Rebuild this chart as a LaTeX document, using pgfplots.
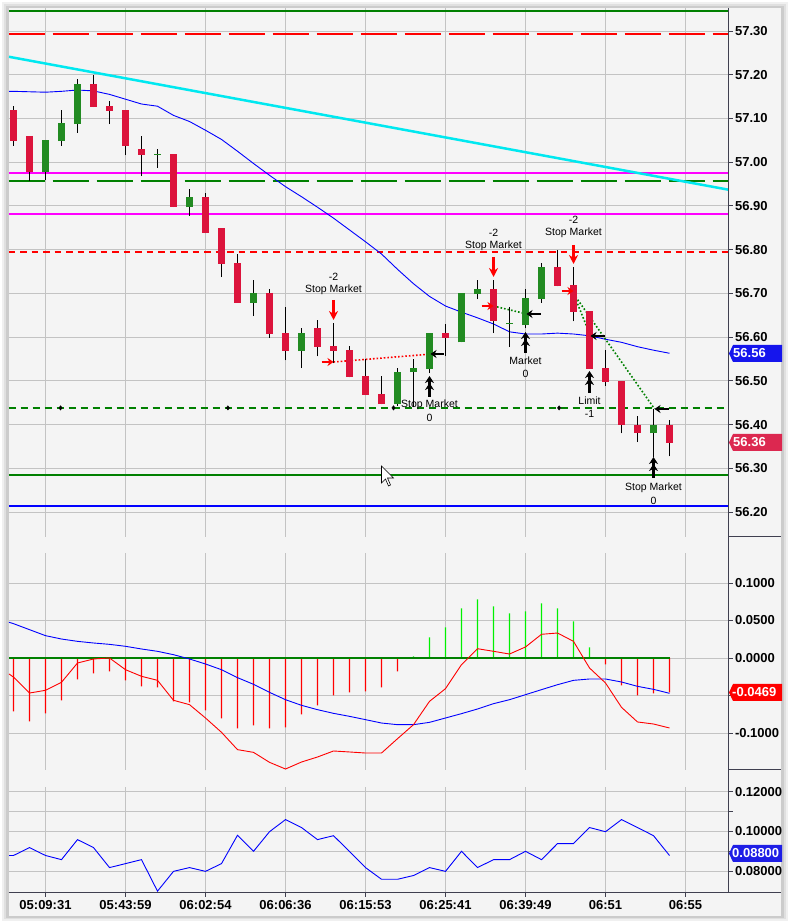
\documentclass[border=0pt]{standalone}
\usepackage{pgfplots}
\pgfplotsset{compat=1.18}
\usepackage{fontspec}
\setmainfont{Liberation Sans}
\usetikzlibrary{arrows.meta}
\definecolor{bg}{HTML}{F4F4F4}
\definecolor{gridgray}{HTML}{C3C3C3}
\definecolor{cgreen}{HTML}{228B22}
\definecolor{cred}{HTML}{DC143C}
\definecolor{lgreen}{HTML}{008000}
\definecolor{lred}{HTML}{FF0000}
\definecolor{lblue}{HTML}{0000FF}
\definecolor{lcyan}{HTML}{00E8F0}
\definecolor{lmag}{HTML}{FF00FF}
\definecolor{hgreen}{HTML}{00F000}
\definecolor{axisgray}{HTML}{404050}
\definecolor{boxred}{HTML}{DC2850}
\definecolor{boxblue}{HTML}{1E1EE6}

\pgfplotsset{
  panel/.style={
    scale only axis, width=719.5pt,
    xmin=-0.28125, xmax=44.6875,
    axis line style={draw=none},
    xtick={2,7,12,17,22,27,32,37,42},
    grid=major, major grid style={draw=gridgray, line width=0.9pt},
    ytick pos=right, yticklabel pos=right,
    tick align=outside, major tick length=4pt,
    tick style={draw=axisgray, line width=0.9pt},
    ticklabel style={font=\fontsize{13}{13}\selectfont\bfseries},
    /pgf/number format/assume math mode=true,
    yticklabel style={anchor=west, xshift=-1pt},
    unbounded coords=jump,
  },
  histbar/.style={ybar, bar width=1.4pt, bar shift=0pt, draw=none, fill=#1, forget plot},
}

\begin{document}
\begin{tikzpicture}
\begin{scope}[x=1pt,y=1pt]
\fill[white] (0,0) rectangle (790,923);
\fill[black!6] (2,2) rectangle (788,921);
\fill[black!12] (4,4) rectangle (786,919);
\fill[black!20] (6,5) rectangle (784,917);
\fill[bg] (8.5,7) rectangle (781,914.5);
\end{scope}

% ================= PRICE PANEL (prices shown relative to 56.00 internally) =================
\begin{axis}[panel, at={(9pt,386pt)}, anchor=south west, height=529pt,
  y filter/.expression={y-56},
  ymin=0.1428, ymax=1.3526,
  ytick={0.2,0.3,0.4,0.5,0.6,0.7,0.8,0.9,1.0,1.1,1.2,1.3},
  yticklabels={56.20,56.30,56.40,56.50,56.60,56.70,56.80,56.90,57.00,57.10,57.20,57.30},
  xticklabels={}, xtick style={draw=none}]
% horizontal levels
\addplot[lgreen, line width=2pt] coordinates {(-0.3,57.3465) (44.7,57.3465)};
\addplot[lred, line width=2pt, dash pattern=on 36pt off 8pt] coordinates {(-0.3,57.294) (44.7,57.294)};
\addplot[lmag, line width=2pt] coordinates {(-0.3,56.975) (44.7,56.975)};
\addplot[lgreen, line width=2pt, dash pattern=on 36pt off 8pt] coordinates {(-0.3,56.957) (44.7,56.957)};
\addplot[lmag, line width=2pt] coordinates {(-0.3,56.882) (44.7,56.882)};
\addplot[lred, line width=2pt, dash pattern=on 6.5pt off 5pt] coordinates {(-0.3,56.795) (44.7,56.795)};
\addplot[lgreen, line width=2pt, dash pattern=on 7.5pt off 4.5pt] coordinates {(-0.3,56.438) (44.7,56.438)};
\addplot[lgreen, line width=2pt] coordinates {(-0.3,56.284) (44.7,56.284)};
\addplot[lblue, line width=2pt] coordinates {(-0.3,56.213) (44.7,56.213)};
% trend line
\addplot[lcyan, line width=2.5pt] coordinates {(-0.28,57.241) (44.69,56.937)};
% moving average
\addplot[lblue, line width=0.9pt] coordinates {
(-0.28,57.162) (0,57.162) (1,57.161) (2,57.160) (3,57.162) (4,57.165) (5,57.163) (6,57.155)
(7,57.144) (8,57.133) (9,57.128) (10,57.107) (11,57.093) (12,57.073) (13,57.052) (14,57.025)
(15,56.997) (16,56.970) (17,56.944) (18,56.921) (19,56.897) (20,56.872) (21,56.845) (22,56.818)
(23,56.790) (24,56.755) (25,56.722) (26,56.693) (27,56.671) (28,56.657) (29,56.644) (30,56.630)
(31,56.612) (32,56.607) (33,56.607) (34,56.609) (35,56.607) (36,56.603) (37,56.595) (38,56.588)
(39,56.578) (40,56.570) (41,56.563)};
% order markers on level
\addplot[only marks, mark=diamond*, mark size=2.2pt, black] coordinates {(2.94,56.438) (13.4,56.438) (23.75,56.438) (34.1,56.438)};
% execution links
\addplot[lred, line width=1.6pt, dotted] coordinates {(20,56.543) (26.06,56.561)};
\addplot[lgreen, line width=1.6pt, dotted] coordinates {(30,56.671) (32.06,56.653)};
\addplot[lgreen, line width=1.6pt, dotted] coordinates {(35,56.699) (36.06,56.603)};
\addplot[lgreen, line width=1.6pt, dotted] coordinates {(35,56.699) (40.06,56.436)};
% candle wicks (low - high)
\addplot[black, line width=1pt] coordinates {
(0,57.037) (0,57.128) (0,nan) (1,56.957) (1,57.060) (1,nan) (2,56.959) (2,57.051) (2,nan)
(3,57.037) (3,57.119) (3,nan) (4,57.067) (4,57.190) (4,nan) (5,57.126) (5,57.199) (5,nan)
(6,57.087) (6,57.140) (6,nan) (7,57.016) (7,57.119) (7,nan) (8,56.968) (8,57.060) (8,nan)
(9,56.987) (9,57.030) (9,nan) (10,56.897) (10,57.018) (10,nan) (11,56.877) (11,56.938) (11,nan)
(12,56.838) (12,56.929) (12,nan) (13,56.737) (13,56.849) (13,nan) (14,56.678) (14,56.790) (14,nan)
(15,56.648) (15,56.730) (15,nan) (16,56.598) (16,56.710) (16,nan) (17,56.547) (17,56.668) (17,nan)
(18,56.529) (18,56.620) (18,nan) (19,56.556) (19,56.639) (19,nan) (20,56.540) (20,56.632) (20,nan)
(21,56.508) (21,56.579) (21,nan) (22,56.467) (22,56.549) (22,nan) (23,56.446) (23,56.511) (23,nan)
(24,56.443) (24,56.529) (24,nan) (25,56.441) (25,56.550) (25,nan) (26,56.517) (26,56.609) (26,nan)
(27,56.556) (27,56.630) (27,nan) (28,56.588) (28,56.701) (28,nan) (29,56.687) (29,56.730) (29,nan)
(30,56.609) (30,56.730) (30,nan) (31,56.577) (31,56.668) (31,nan) (32,56.620) (32,56.710) (32,nan)
(33,56.678) (33,56.769) (33,nan) (34,56.716) (34,56.799) (34,nan) (35,56.636) (35,56.760) (35,nan)
(36,56.527) (36,56.659) (36,nan) (37,56.488) (37,56.570) (37,nan) (38,56.380) (38,56.499) (38,nan)
(39,56.360) (39,56.419) (39,nan) (40,56.325) (40,56.435) (40,nan) (41,56.327) (41,56.410)};
% red candle bodies (open - close)
\addplot[cred, line width=7pt] coordinates {
(0,57.119) (0,57.048) (0,nan) (1,57.060) (1,56.977) (1,nan) (5,57.179) (5,57.126) (5,nan)
(6,57.128) (6,57.117) (6,nan) (7,57.119) (7,57.037) (7,nan) (8,57.030) (8,57.016) (8,nan)
(10,57.018) (10,56.897) (10,nan) (12,56.920) (12,56.838) (12,nan) (13,56.849) (13,56.767) (13,nan)
(14,56.769) (14,56.678) (14,nan) (16,56.701) (16,56.607) (16,nan) (17,56.609) (17,56.568) (17,nan)
(19,56.620) (19,56.577) (19,nan) (20,56.579) (20,56.568) (20,nan) (21,56.570) (21,56.508) (21,nan)
(22,56.511) (22,56.467) (22,nan) (23,56.469) (23,56.446) (23,nan) (27,56.609) (27,56.598) (27,nan)
(30,56.710) (30,56.636) (30,nan) (34,56.760) (34,56.716) (34,nan) (35,56.719) (35,56.657) (35,nan)
(36,56.659) (36,56.527) (36,nan) (37,56.529) (37,56.497) (37,nan) (38,56.499) (38,56.400) (38,nan)
(39,56.400) (39,56.380) (39,nan) (41,56.400) (41,56.357)};
% green candle bodies (open - close)
\addplot[cgreen, line width=7pt] coordinates {
(2,56.977) (2,57.051) (2,nan) (3,57.048) (3,57.089) (3,nan) (4,57.087) (4,57.179) (4,nan)
(9,57.0165) (9,57.019) (9,nan) (11,56.897) (11,56.920) (11,nan) (15,56.678) (15,56.701) (15,nan)
(18,56.568) (18,56.609) (18,nan) (24,56.448) (24,56.520) (24,nan) (25,56.519) (25,56.529) (25,nan)
(26,56.527) (26,56.609) (26,nan) (28,56.588) (28,56.701) (28,nan) (29,56.698) (29,56.710) (29,nan)
(31,56.6295) (31,56.632) (31,nan) (32,56.627) (32,56.689) (32,nan) (33,56.687) (33,56.760) (33,nan)
(40,56.380) (40,56.400)};
\end{axis}

% ================= MACD PANEL =================
\begin{axis}[panel, at={(9pt,153pt)}, anchor=south west, height=217pt,
  ymin=-0.14933, ymax=0.14,
  ytick={-0.1,-0.05,0,0.05,0.1},
  yticklabels={-0.1000,,0.0000,0.0500,0.1000},
  xticklabels={}, xtick style={draw=none}]
% histogram
\addplot[histbar=lred] coordinates {
(0,-0.0711) (1,-0.0844) (2,-0.0738) (3,-0.0564) (4,-0.0284) (5,-0.0204) (6,-0.0178) (7,-0.0298)
(8,-0.0378) (9,-0.0391) (10,-0.0578) (11,-0.0591) (12,-0.0698) (13,-0.0804) (14,-0.0938) (15,-0.0898)
(16,-0.0938) (17,-0.0924) (18,-0.0751) (19,-0.0631) (20,-0.0498) (21,-0.0458) (22,-0.0444) (23,-0.0391)
(24,-0.0178) (37,-0.0084) (38,-0.0364) (39,-0.0498) (40,-0.0471) (41,-0.0458)};
\addplot[histbar=hgreen] coordinates {
(25,0.002) (26,0.0276) (27,0.0409) (28,0.0662) (29,0.0782) (30,0.0689) (31,0.0596) (32,0.0622)
(33,0.0729) (34,0.0662) (35,0.0489) (36,0.0142)};
\addplot[lgreen, line width=1.5pt] coordinates {(-0.28,0) (41,0)};
\addplot[lblue, line width=0.9pt] coordinates {
(-0.28,0.0476) (0,0.0458) (1,0.0378) (2,0.0298) (3,0.0253) (4,0.0222) (5,0.0200) (6,0.0182)
(7,0.0156) (8,0.0120) (9,0.0089) (10,0.0044) (11,-0.0013) (12,-0.0080) (13,-0.0156) (14,-0.0262)
(15,-0.0351) (16,-0.0458) (17,-0.0556) (18,-0.0631) (19,-0.0689) (20,-0.0738) (21,-0.0778) (22,-0.0822)
(23,-0.0867) (24,-0.0889) (25,-0.0889) (26,-0.0858) (27,-0.0800) (28,-0.0742) (29,-0.0680) (30,-0.0609)
(31,-0.0556) (32,-0.0489) (33,-0.0422) (34,-0.0356) (35,-0.0298) (36,-0.0280) (37,-0.0280) (38,-0.0320)
(39,-0.0378) (40,-0.0418) (41,-0.0471)};
\addplot[lred, line width=0.9pt] coordinates {
(-0.28,-0.0213) (0,-0.0255) (1,-0.0467) (2,-0.0431) (3,-0.0324) (4,-0.0067) (5,-0.0013) (6,0.0)
(7,-0.0156) (8,-0.0244) (9,-0.0298) (10,-0.0564) (11,-0.0622) (12,-0.0800) (13,-0.0991) (14,-0.1222)
(15,-0.1258) (16,-0.1391) (17,-0.1480) (18,-0.1387) (19,-0.1320) (20,-0.1240) (21,-0.1253) (22,-0.1267)
(23,-0.1267) (24,-0.1076) (25,-0.0889) (26,-0.0578) (27,-0.0409) (28,-0.0089) (29,0.0124) (30,0.0089)
(31,0.0053) (32,0.0147) (33,0.0316) (34,0.0333) (35,0.0222) (36,-0.0133) (37,-0.0333) (38,-0.0658)
(39,-0.0853) (40,-0.0880) (41,-0.0933)};
\end{axis}

% ================= LOWER PANEL =================
\begin{axis}[panel, at={(9pt,30pt)}, anchor=south west, height=106pt,
  ymin=0.06888, ymax=0.12235,
  ytick={0.08,0.09,0.10,0.11,0.12},
  yticklabels={0.08000,,0.10000,,0.12000},
  xtick pos=bottom,
  xticklabels={05:09:31,05:43:59,06:02:54,06:06:36,06:15:53,06:25:41,06:39:49,06:51,06:55}]
\addplot[lblue, line width=0.9pt] coordinates {
(-0.28,0.0878) (0,0.0878) (1,0.0918) (2,0.0878) (3,0.0857) (4,0.0958) (5,0.0918) (6,0.0817)
(7,0.0837) (8,0.0857) (9,0.0698) (10,0.0798) (11,0.0817) (12,0.0798) (13,0.0837) (14,0.0980)
(15,0.0899) (16,0.0998) (17,0.1059) (18,0.1019) (19,0.0958) (20,0.0978) (21,0.0898) (22,0.0817)
(23,0.0758) (24,0.0758) (25,0.0777) (26,0.0817) (27,0.0798) (28,0.0899) (29,0.0817) (30,0.0857)
(31,0.0857) (32,0.0899) (33,0.0857) (34,0.0938) (35,0.0938) (36,0.1019) (37,0.0998) (38,0.1059)
(39,0.1019) (40,0.0978) (41,0.0878)};
\end{axis}

\begin{scope}[x=1pt,y=1pt]
% axis frame lines
\draw[axisgray, line width=1pt] (728.5,30) -- (728.5,914.5);
\draw[axisgray, line width=1pt] (8.5,30) -- (781,30);
\draw[axisgray, line width=1pt] (728.5,386) -- (781,386);
\draw[axisgray, line width=1pt] (728.5,153) -- (781,153);

% last-value boxes
\begin{scope}[font=\fontsize{13}{13}\selectfont\bfseries, text=white]
\fill[boxblue!70!lblue] (729,569.5) -- (733,578) -- (782,578) -- (782,561) -- (733,561) -- cycle;
\node[anchor=west, inner sep=0pt] at (733,569.5) {56.56};
\fill[boxred] (729,480.5) -- (733,489) -- (782,489) -- (782,472) -- (733,472) -- cycle;
\node[anchor=west, inner sep=0pt] at (733,480.5) {56.36};
\fill[lred] (729,230.5) -- (733,239) -- (782,239) -- (782,222) -- (733,222) -- cycle;
\node[anchor=west, inner sep=0pt] at (732,230.5) {-0.0469};
\fill[boxblue] (729,69.5) -- (733,78) -- (782,78) -- (782,61) -- (733,61) -- cycle;
\node[anchor=west, inner sep=0pt] at (732,69.5) {0.08800};
\end{scope}

\begin{scope}[xshift=0.5pt]
% trade annotations
\begin{scope}[font=\fontsize{10.5}{10.5}\selectfont]
\node at (333,646) {-2}; \node at (333,633) {Stop Market};
\node at (493,690) {-2}; \node at (493,677) {Stop Market};
\node at (573,703) {-2}; \node at (573,690) {Stop Market};
\node at (429,518) {Stop Market}; \node at (429,505) {0};
\node at (525,562) {Market}; \node at (525,549) {0};
\node at (589,522) {Limit}; \node at (589,509) {-1};
\node at (653,435) {Stop Market}; \node at (653,422) {0};
\end{scope}
% red sell arrows
\draw[lred, line width=3pt, -{Stealth[length=9pt,width=9pt]}] (333,623) -- (333,603);
\draw[lred, line width=3pt, -{Stealth[length=9pt,width=9pt]}] (493,666) -- (493,646);
\draw[lred, line width=3pt, -{Stealth[length=9pt,width=9pt]}] (573,678) -- (573,659);
\draw[lred, line width=2pt, -{Stealth[length=6pt,width=8pt]}] (321,561) -- (333,561);
\draw[lred, line width=2pt, -{Stealth[length=6pt,width=8pt]}] (481,617) -- (493,617);
\draw[lred, line width=2pt, -{Stealth[length=6pt,width=8pt]}] (561,632) -- (573,632);
% black buy arrows
\draw[black, line width=3pt, -{Stealth[length=7pt,width=9pt]Stealth[length=7pt,width=9pt]}] (429,526) -- (429,547);
\draw[black, line width=3pt, -{Stealth[length=7pt,width=9pt]Stealth[length=7pt,width=9pt]}] (525,570) -- (525,591);
\draw[black, line width=3pt, -{Stealth[length=7pt,width=9pt]Stealth[length=7pt,width=9pt]}] (589,530) -- (589,552);
\draw[black, line width=3pt, -{Stealth[length=7pt,width=9pt]Stealth[length=7pt,width=9pt]}] (653,445) -- (653,466);
\draw[black, line width=2pt, {Stealth[length=6pt,width=8pt]}-] (430,569) -- (443,569);
\draw[black, line width=2pt, {Stealth[length=6pt,width=8pt]}-] (526,609) -- (540,609);
\draw[black, line width=2pt, {Stealth[length=6pt,width=8pt]}-] (590,587) -- (604,587);
\draw[black, line width=2pt, {Stealth[length=6pt,width=8pt]}-] (654,514) -- (668,514);
% mouse cursor
\filldraw[fill=white, draw=black, line width=0.6pt] (381,457) -- (381,440) -- (385,444) -- (388,437) -- (390,438) -- (387,445) -- (393,445) -- cycle;
\end{scope}
\end{scope}
\end{tikzpicture}
\end{document}
